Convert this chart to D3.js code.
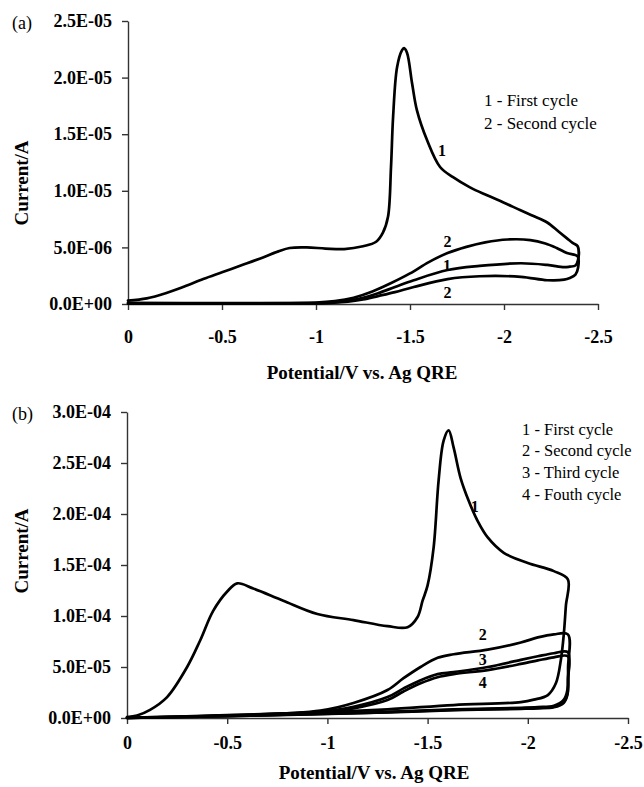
<!DOCTYPE html>
<html>
<head>
<meta charset="utf-8">
<script src="https://cdnjs.cloudflare.com/ajax/libs/d3/7.8.5/d3.min.js"></script>
<style>
  html, body { margin: 0; padding: 0; background: #fff; }
  svg { display: block; }
</style>
</head>
<body>
<svg id="chart" width="644" height="787"></svg>
<script>
const SERIF = '"Liberation Serif", "Times New Roman", Times, serif';

// ---------- shared axis data ----------
const xTicks = [0, -0.5, -1, -1.5, -2, -2.5];
const xTickLabels = ["0", "-0.5", "-1", "-1.5", "-2", "-2.5"];

// ---------- panel (a) ----------
const yTicksA = [0, 5e-6, 1e-5, 1.5e-5, 2e-5, 2.5e-5];
const yTickLabelsA = ["0.0E+00", "5.0E-06", "1.0E-05", "1.5E-05", "2.0E-05", "2.5E-05"];
const legendA = ["1 - First cycle", "2 - Second cycle"];

// potentials (V) and currents (in 1e-6 A)
const a1FwdV = [0,-0.1,-0.2,-0.3,-0.4,-0.5,-0.6,-0.7,-0.8,-0.86,-0.95,-1.05,-1.15,-1.25,-1.32,-1.356,-1.383,-1.399,-1.41,-1.431,-1.457,-1.468,-1.484,-1.511,-1.537,-1.59,-1.66,-1.729,-1.819,-1.91,-2.0,-2.085,-2.16,-2.23,-2.29,-2.335,-2.365,-2.392];
const a1FwdI = [0.3,0.5,0.95,1.55,2.2,2.8,3.4,4.0,4.65,4.95,5.0,4.9,4.85,5.1,5.5,6.3,7.7,12.1,16.5,20.9,22.4,22.6,22.2,19.5,17.1,14.5,12.1,11.2,10.3,9.6,8.95,8.3,7.75,7.2,6.4,5.8,5.4,5.1];
const a1RevV = [-2.394,-2.38,-2.35,-2.32,-2.23,-2.09,-1.87,-1.7,-1.52,-1.42,-1.33,-1.25,-1.17,-1.08,-1.0,-0.5,0];
const a1RevI = [3.9,3.4,3.3,3.25,3.45,3.6,3.36,3.0,2.1,1.5,0.95,0.55,0.3,0.12,0.08,0.05,0.05];
const a2FwdV = [0,-0.5,-1.0,-1.1,-1.2,-1.3,-1.4,-1.5,-1.6,-1.7,-1.8,-1.9,-2.02,-2.14,-2.22,-2.28,-2.335,-2.392];
const a2FwdI = [0.1,0.08,0.12,0.25,0.55,1.1,1.85,2.7,3.7,4.5,5.05,5.45,5.7,5.65,5.35,4.95,4.5,4.2];
const a2RevV = [-2.394,-2.38,-2.35,-2.32,-2.23,-2.09,-1.87,-1.7,-1.52,-1.42,-1.33,-1.25,-1.17,-1.08,-1.0,-0.5,0];
const a2RevI = [3.2,2.6,2.3,2.15,2.1,2.4,2.45,2.2,1.5,1.05,0.7,0.4,0.2,0.1,0.06,0.04,0.04];
const labelsA = [["1",-1.67,13.6],["2",-1.70,5.5],["1",-1.697,3.45],["2",-1.70,1.06]];

// ---------- panel (b) ----------
const yTicksB = [0, 5e-5, 1e-4, 1.5e-4, 2e-4, 2.5e-4, 3e-4];
const yTickLabelsB = ["0.0E+00", "5.0E-05", "1.0E-04", "1.5E-04", "2.0E-04", "2.5E-04", "3.0E-04"];
const legendB = ["1 - First cycle", "2 - Second cycle", "3 - Third cycle", "4 - Fouth cycle"];

// potentials (V) and currents (in 1e-5 A)
const b1FwdV = [0,-0.05,-0.115,-0.2,-0.3,-0.365,-0.43,-0.5,-0.55,-0.63,-0.78,-0.95,-1.13,-1.3,-1.4,-1.45,-1.475,-1.5,-1.53,-1.555,-1.58,-1.605,-1.63,-1.665,-1.705,-1.75,-1.8,-1.88,-2.0,-2.13,-2.2];
const b1FwdI = [0.1,0.25,0.8,2.05,5.0,7.6,10.5,12.4,13.2,12.7,11.5,10.2,9.6,9.0,8.9,9.9,11.5,13.0,16.7,23.3,27.2,28.2,26.5,23.5,21.3,19.3,17.7,16.2,15.2,14.4,13.6];
const b1RevV = [-2.19,-2.18,-2.165,-2.14,-2.1,-2.03,-1.965,-1.63,-1.3,-0.965,-0.5,0];
const b1RevI = [11.0,8.3,5.7,3.4,2.25,1.8,1.56,1.27,0.85,0.55,0.28,0.02];
const bFwdV = [0,-0.5,-0.965,-1.13,-1.3,-1.38,-1.465,-1.55,-1.63,-1.8,-1.965,-2.05,-2.13,-2.2];
const b2FwdI = [0.02,0.25,0.72,1.47,2.74,3.9,5.0,5.9,6.25,6.7,7.4,7.9,8.2,8.2];
const b3FwdI = [0.02,0.22,0.62,1.1,2.05,2.9,3.7,4.3,4.5,5.0,5.7,6.05,6.35,6.45];
const b4FwdI = [0.02,0.2,0.58,0.95,1.76,2.6,3.4,4.0,4.3,4.7,5.3,5.65,5.95,6.05];
const bRevV = [-2.201,-2.198,-2.18,-2.13,-2.05,-1.965,-1.63,-1.3,-0.965,-0.5,0];
const b2RevI = [5.0,2.8,1.8,1.2,1.07,1.0,0.85,0.6,0.42,0.2,0.02];
const b3RevI = [4.0,2.4,1.6,1.1,1.0,0.95,0.8,0.57,0.4,0.19,0.02];
const b4RevI = [3.8,2.3,1.5,1.05,0.95,0.9,0.76,0.55,0.38,0.18,0.02];
const labelsB = [["1",-1.735,20.7],["2",-1.775,8.2],["3",-1.775,5.76],["4",-1.775,3.5]];

// ---------- drawing ----------
const svg = d3.select("#chart");
const zip = (V, I, s) => V.map((v, i) => [v, I[i] * s]);

function txt(sel, size, bold) {
  return sel.attr("font-family", SERIF).style("font-family", SERIF)
    .style("font-size", size + "px").style("font-weight", bold ? "bold" : "normal").attr("fill", "#000");
}

function panel(cfg) {
  const x = d3.scaleLinear().domain([0, -2.5]).range(cfg.xr);
  const y = d3.scaleLinear().domain([0, cfg.ymax]).range(cfg.yr);
  const g = svg.append("g");

  // y axis
  const ya = g.append("g").attr("transform", `translate(${cfg.xr[0]},0)`)
    .call(d3.axisLeft(y).tickValues(cfg.yTicks).tickFormat((d, i) => cfg.yLabels[i])
      .tickSize(6).tickSizeOuter(0).tickPadding(10));
  // x axis
  const xa = g.append("g").attr("transform", `translate(0,${cfg.yr[0]})`)
    .call(d3.axisBottom(x).tickValues(xTicks).tickFormat((d, i) => xTickLabels[i])
      .tickSize(6).tickSizeOuter(0).tickPadding(cfg.xPad));
  [ya, xa].forEach(a => {
    a.attr("font-family", SERIF);
    a.selectAll("path, line").attr("stroke", "#333").attr("stroke-width", 1.4);
    txt(a.selectAll("text"), 18, true);
  });

  // curves
  const line = d3.line().x(d => x(d[0])).y(d => y(d[1])).curve(d3.curveCatmullRom.alpha(0.5));
  cfg.series.forEach(s => {
    g.append("path").datum(s).attr("d", line)
      .attr("fill", "none").attr("stroke", "#000").attr("stroke-width", 2.7)
      .attr("stroke-linejoin", "round").attr("stroke-linecap", "round");
  });

  // curve labels
  cfg.labels.forEach(l => {
    txt(g.append("text").attr("x", x(l[1])).attr("y", y(l[2] * cfg.unit)).attr("dy", "0.35em")
      .attr("text-anchor", "middle"), 16, true).text(l[0]);
  });

  // legend
  cfg.legend.forEach((t, i) => {
    txt(g.append("text").attr("x", cfg.legX).attr("y", cfg.legY + i * cfg.legDy).attr("dy", "0.35em"),
      cfg.legFs, false).text(t);
  });

  // titles
  txt(g.append("text").attr("x", cfg.titleX).attr("y", cfg.titleY).attr("dy", "0.35em")
    .attr("text-anchor", "middle"), 19, true).text("Potential/V vs. Ag QRE");
  txt(g.append("text").attr("transform", `translate(${cfg.ylabX},${cfg.ylabY}) rotate(-90)`).attr("dy", "0.35em")
    .attr("text-anchor", "middle"), 19, true).text("Current/A");
  txt(g.append("text").attr("x", 12).attr("y", cfg.yr[1] + 2).attr("dy", "0.35em"), 18, false).text(cfg.tag);
}

const uA = 1e-6, uB = 1e-5;
panel({
  xr: [128, 598], yr: [304, 21], ymax: 2.5e-5, yTicks: yTicksA, yLabels: yTickLabelsA, xPad: 20,
  unit: uA,
  series: [
    zip(a1FwdV, a1FwdI, uA).concat(zip(a1RevV, a1RevI, uA)),
    zip(a2FwdV, a2FwdI, uA).concat(zip(a2RevV, a2RevI, uA))
  ],
  labels: labelsA, legend: legendA, legX: 484, legY: 100, legDy: 23, legFs: 17,
  titleX: 362, titleY: 372, ylabX: 21, ylabY: 183, tag: "(a)"
});
panel({
  xr: [127, 628], yr: [718, 412], ymax: 3e-4, yTicks: yTicksB, yLabels: yTickLabelsB, xPad: 12,
  unit: uB,
  series: [
    zip(b1FwdV, b1FwdI, uB).concat(zip(b1RevV, b1RevI, uB)),
    zip(bFwdV, b2FwdI, uB).concat(zip(bRevV, b2RevI, uB)),
    zip(bFwdV, b3FwdI, uB).concat(zip(bRevV, b3RevI, uB)),
    zip(bFwdV, b4FwdI, uB).concat(zip(bRevV, b4RevI, uB))
  ],
  labels: labelsB, legend: legendB, legX: 522, legY: 429, legDy: 21.7, legFs: 16.5,
  titleX: 374, titleY: 772, ylabX: 21, ylabY: 551, tag: "(b)"
});
</script>
</body>
</html>
